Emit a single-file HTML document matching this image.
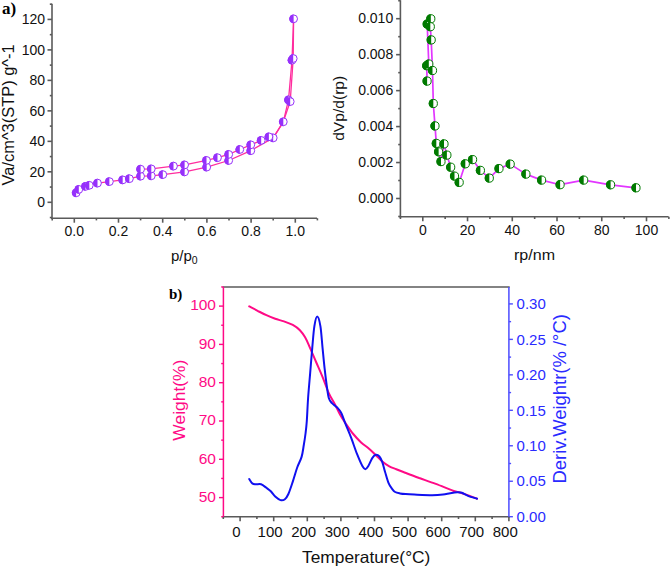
<!DOCTYPE html>
<html><head><meta charset="utf-8"><title>Figure</title>
<style>
html,body{margin:0;padding:0;background:#fff;}
body{width:670px;height:568px;overflow:hidden;font-family:"Liberation Sans", sans-serif;}
svg{display:block;}
</style></head>
<body>
<svg width="670" height="568" viewBox="0 0 670 568">
<rect width="670" height="568" fill="#fff"/>
<line x1="52" y1="3.7" x2="52" y2="219" stroke="#5a5a5a" stroke-width="1.6" stroke-linecap="butt"/>
<line x1="51.2" y1="218.2" x2="317" y2="218.2" stroke="#5a5a5a" stroke-width="1.6" stroke-linecap="butt"/>
<line x1="49.8" y1="217.54" x2="52" y2="217.54" stroke="#5a5a5a" stroke-width="1.6" stroke-linecap="butt"/>
<line x1="47.5" y1="202.3" x2="52" y2="202.3" stroke="#5a5a5a" stroke-width="1.6" stroke-linecap="butt"/>
<text x="45" y="207.3" font-family='"Liberation Sans", sans-serif' font-size="14" fill="#111" text-anchor="end" font-weight="normal" >0</text>
<line x1="49.8" y1="187.06" x2="52" y2="187.06" stroke="#5a5a5a" stroke-width="1.6" stroke-linecap="butt"/>
<line x1="47.5" y1="171.82" x2="52" y2="171.82" stroke="#5a5a5a" stroke-width="1.6" stroke-linecap="butt"/>
<text x="45" y="176.82" font-family='"Liberation Sans", sans-serif' font-size="14" fill="#111" text-anchor="end" font-weight="normal" >20</text>
<line x1="49.8" y1="156.58" x2="52" y2="156.58" stroke="#5a5a5a" stroke-width="1.6" stroke-linecap="butt"/>
<line x1="47.5" y1="141.34" x2="52" y2="141.34" stroke="#5a5a5a" stroke-width="1.6" stroke-linecap="butt"/>
<text x="45" y="146.34" font-family='"Liberation Sans", sans-serif' font-size="14" fill="#111" text-anchor="end" font-weight="normal" >40</text>
<line x1="49.8" y1="126.1" x2="52" y2="126.1" stroke="#5a5a5a" stroke-width="1.6" stroke-linecap="butt"/>
<line x1="47.5" y1="110.86" x2="52" y2="110.86" stroke="#5a5a5a" stroke-width="1.6" stroke-linecap="butt"/>
<text x="45" y="115.86" font-family='"Liberation Sans", sans-serif' font-size="14" fill="#111" text-anchor="end" font-weight="normal" >60</text>
<line x1="49.8" y1="95.62" x2="52" y2="95.62" stroke="#5a5a5a" stroke-width="1.6" stroke-linecap="butt"/>
<line x1="47.5" y1="80.38" x2="52" y2="80.38" stroke="#5a5a5a" stroke-width="1.6" stroke-linecap="butt"/>
<text x="45" y="85.38" font-family='"Liberation Sans", sans-serif' font-size="14" fill="#111" text-anchor="end" font-weight="normal" >80</text>
<line x1="49.8" y1="65.14" x2="52" y2="65.14" stroke="#5a5a5a" stroke-width="1.6" stroke-linecap="butt"/>
<line x1="47.5" y1="49.9" x2="52" y2="49.9" stroke="#5a5a5a" stroke-width="1.6" stroke-linecap="butt"/>
<text x="45" y="54.9" font-family='"Liberation Sans", sans-serif' font-size="14" fill="#111" text-anchor="end" font-weight="normal" >100</text>
<line x1="49.8" y1="34.66" x2="52" y2="34.66" stroke="#5a5a5a" stroke-width="1.6" stroke-linecap="butt"/>
<line x1="47.5" y1="19.42" x2="52" y2="19.42" stroke="#5a5a5a" stroke-width="1.6" stroke-linecap="butt"/>
<text x="45" y="24.42" font-family='"Liberation Sans", sans-serif' font-size="14" fill="#111" text-anchor="end" font-weight="normal" >120</text>
<line x1="49.8" y1="4.18" x2="52" y2="4.18" stroke="#5a5a5a" stroke-width="1.6" stroke-linecap="butt"/>
<line x1="52.2" y1="218.2" x2="52.2" y2="220.4" stroke="#5a5a5a" stroke-width="1.6" stroke-linecap="butt"/>
<line x1="74.3" y1="218.2" x2="74.3" y2="222.7" stroke="#5a5a5a" stroke-width="1.6" stroke-linecap="butt"/>
<text x="74.3" y="236.3" font-family='"Liberation Sans", sans-serif' font-size="14" fill="#111" text-anchor="middle" font-weight="normal" >0.0</text>
<line x1="96.4" y1="218.2" x2="96.4" y2="220.4" stroke="#5a5a5a" stroke-width="1.6" stroke-linecap="butt"/>
<line x1="118.5" y1="218.2" x2="118.5" y2="222.7" stroke="#5a5a5a" stroke-width="1.6" stroke-linecap="butt"/>
<text x="118.5" y="236.3" font-family='"Liberation Sans", sans-serif' font-size="14" fill="#111" text-anchor="middle" font-weight="normal" >0.2</text>
<line x1="140.6" y1="218.2" x2="140.6" y2="220.4" stroke="#5a5a5a" stroke-width="1.6" stroke-linecap="butt"/>
<line x1="162.7" y1="218.2" x2="162.7" y2="222.7" stroke="#5a5a5a" stroke-width="1.6" stroke-linecap="butt"/>
<text x="162.7" y="236.3" font-family='"Liberation Sans", sans-serif' font-size="14" fill="#111" text-anchor="middle" font-weight="normal" >0.4</text>
<line x1="184.8" y1="218.2" x2="184.8" y2="220.4" stroke="#5a5a5a" stroke-width="1.6" stroke-linecap="butt"/>
<line x1="206.9" y1="218.2" x2="206.9" y2="222.7" stroke="#5a5a5a" stroke-width="1.6" stroke-linecap="butt"/>
<text x="206.9" y="236.3" font-family='"Liberation Sans", sans-serif' font-size="14" fill="#111" text-anchor="middle" font-weight="normal" >0.6</text>
<line x1="229" y1="218.2" x2="229" y2="220.4" stroke="#5a5a5a" stroke-width="1.6" stroke-linecap="butt"/>
<line x1="251.1" y1="218.2" x2="251.1" y2="222.7" stroke="#5a5a5a" stroke-width="1.6" stroke-linecap="butt"/>
<text x="251.1" y="236.3" font-family='"Liberation Sans", sans-serif' font-size="14" fill="#111" text-anchor="middle" font-weight="normal" >0.8</text>
<line x1="273.2" y1="218.2" x2="273.2" y2="220.4" stroke="#5a5a5a" stroke-width="1.6" stroke-linecap="butt"/>
<line x1="295.3" y1="218.2" x2="295.3" y2="222.7" stroke="#5a5a5a" stroke-width="1.6" stroke-linecap="butt"/>
<text x="295.3" y="236.3" font-family='"Liberation Sans", sans-serif' font-size="14" fill="#111" text-anchor="middle" font-weight="normal" >1.0</text>
<line x1="317.4" y1="218.2" x2="317.4" y2="220.4" stroke="#5a5a5a" stroke-width="1.6" stroke-linecap="butt"/>
<text x="0" y="0" font-family='"Liberation Sans", sans-serif' font-size="16" fill="#111" text-anchor="middle" font-weight="normal" transform="translate(13.6,114.9) rotate(-90)" textLength="141" lengthAdjust="spacingAndGlyphs">Va/cm^3(STP) g^-1</text>
<text x="171" y="260.6" font-family='"Liberation Sans", sans-serif' font-size="15" fill="#111">p/p<tspan font-size="10.5" dy="3.8">0</tspan></text>
<text x="2" y="14.2" font-family='"Liberation Serif", serif' font-size="17" fill="#000" text-anchor="start" font-weight="bold" >a)</text>
<path d="M76.2,192.8 L78.8,189.4 L85.5,186.4 L89.3,185.3 L97.5,183.1 L109.4,181.6 L122.7,179.9 L129.4,178.7 L140.6,176.2 L151.3,175.8 L162.8,174.6 L184.6,171.9 L206.7,167.1 L228.7,160.5 L250.8,150.7 L273.2,137.9 L283.3,121.8 L288.5,99.9 L292,60.2 L293.6,18.8" fill="none" stroke="#ff2d9e" stroke-width="1.3" stroke-linejoin="round" stroke-linecap="round"/>
<path d="M293.6,18.8 L293.2,58.5 L290.2,101.6 L283.3,121.8 L273.2,137.9 L268.9,136.8 L261.2,140.4 L250.8,144.8 L239.8,149.5 L228.7,154.4 L217.5,157.7 L206.5,160.4 L184.6,164.9 L173.5,166.1 L151.3,168.9 L140.6,169.2" fill="none" stroke="#ff2d9e" stroke-width="1.3" stroke-linejoin="round" stroke-linecap="round"/>
<circle cx="76.2" cy="192.8" r="3.9" fill="#fff" stroke="#9630fb" stroke-width="1.0"/><path d="M76.2,188.4 A4.4,4.4 0 0 0 76.2,197.2 Z" fill="#9630fb"/>
<circle cx="78.8" cy="189.4" r="3.9" fill="#fff" stroke="#9630fb" stroke-width="1.0"/><path d="M78.8,185 A4.4,4.4 0 0 0 78.8,193.8 Z" fill="#9630fb"/>
<circle cx="85.5" cy="186.4" r="3.9" fill="#fff" stroke="#9630fb" stroke-width="1.0"/><path d="M85.5,182 A4.4,4.4 0 0 0 85.5,190.8 Z" fill="#9630fb"/>
<circle cx="89.3" cy="185.3" r="3.9" fill="#fff" stroke="#9630fb" stroke-width="1.0"/><path d="M89.3,180.9 A4.4,4.4 0 0 0 89.3,189.7 Z" fill="#9630fb"/>
<circle cx="97.5" cy="183.1" r="3.9" fill="#fff" stroke="#9630fb" stroke-width="1.0"/><path d="M97.5,178.7 A4.4,4.4 0 0 0 97.5,187.5 Z" fill="#9630fb"/>
<circle cx="109.4" cy="181.6" r="3.9" fill="#fff" stroke="#9630fb" stroke-width="1.0"/><path d="M109.4,177.2 A4.4,4.4 0 0 0 109.4,186 Z" fill="#9630fb"/>
<circle cx="122.7" cy="179.9" r="3.9" fill="#fff" stroke="#9630fb" stroke-width="1.0"/><path d="M122.7,175.5 A4.4,4.4 0 0 0 122.7,184.3 Z" fill="#9630fb"/>
<circle cx="129.4" cy="178.7" r="3.9" fill="#fff" stroke="#9630fb" stroke-width="1.0"/><path d="M129.4,174.3 A4.4,4.4 0 0 0 129.4,183.1 Z" fill="#9630fb"/>
<circle cx="140.6" cy="176.2" r="3.9" fill="#fff" stroke="#9630fb" stroke-width="1.0"/><path d="M140.6,171.8 A4.4,4.4 0 0 0 140.6,180.6 Z" fill="#9630fb"/>
<circle cx="151.3" cy="175.8" r="3.9" fill="#fff" stroke="#9630fb" stroke-width="1.0"/><path d="M151.3,171.4 A4.4,4.4 0 0 0 151.3,180.2 Z" fill="#9630fb"/>
<circle cx="162.8" cy="174.6" r="3.9" fill="#fff" stroke="#9630fb" stroke-width="1.0"/><path d="M162.8,170.2 A4.4,4.4 0 0 0 162.8,179 Z" fill="#9630fb"/>
<circle cx="184.6" cy="171.9" r="3.9" fill="#fff" stroke="#9630fb" stroke-width="1.0"/><path d="M184.6,167.5 A4.4,4.4 0 0 0 184.6,176.3 Z" fill="#9630fb"/>
<circle cx="206.7" cy="167.1" r="3.9" fill="#fff" stroke="#9630fb" stroke-width="1.0"/><path d="M206.7,162.7 A4.4,4.4 0 0 0 206.7,171.5 Z" fill="#9630fb"/>
<circle cx="228.7" cy="160.5" r="3.9" fill="#fff" stroke="#9630fb" stroke-width="1.0"/><path d="M228.7,156.1 A4.4,4.4 0 0 0 228.7,164.9 Z" fill="#9630fb"/>
<circle cx="250.8" cy="150.7" r="3.9" fill="#fff" stroke="#9630fb" stroke-width="1.0"/><path d="M250.8,146.3 A4.4,4.4 0 0 0 250.8,155.1 Z" fill="#9630fb"/>
<circle cx="273.2" cy="137.9" r="3.9" fill="#fff" stroke="#9630fb" stroke-width="1.0"/><path d="M273.2,133.5 A4.4,4.4 0 0 0 273.2,142.3 Z" fill="#9630fb"/>
<circle cx="283.3" cy="121.8" r="3.9" fill="#fff" stroke="#9630fb" stroke-width="1.0"/><path d="M283.3,117.4 A4.4,4.4 0 0 0 283.3,126.2 Z" fill="#9630fb"/>
<circle cx="288.5" cy="99.9" r="3.9" fill="#fff" stroke="#9630fb" stroke-width="1.0"/><path d="M288.5,95.5 A4.4,4.4 0 0 0 288.5,104.3 Z" fill="#9630fb"/>
<circle cx="292" cy="60.2" r="3.9" fill="#fff" stroke="#9630fb" stroke-width="1.0"/><path d="M292,55.8 A4.4,4.4 0 0 0 292,64.6 Z" fill="#9630fb"/>
<circle cx="293.6" cy="18.8" r="3.9" fill="#fff" stroke="#9630fb" stroke-width="1.0"/><path d="M293.6,14.4 A4.4,4.4 0 0 0 293.6,23.2 Z" fill="#9630fb"/>
<circle cx="293.2" cy="58.5" r="3.9" fill="#fff" stroke="#9630fb" stroke-width="1.0"/><path d="M293.2,54.1 A4.4,4.4 0 0 0 293.2,62.9 Z" fill="#9630fb"/>
<circle cx="290.2" cy="101.6" r="3.9" fill="#fff" stroke="#9630fb" stroke-width="1.0"/><path d="M290.2,97.2 A4.4,4.4 0 0 0 290.2,106 Z" fill="#9630fb"/>
<circle cx="268.9" cy="136.8" r="3.9" fill="#fff" stroke="#9630fb" stroke-width="1.0"/><path d="M268.9,132.4 A4.4,4.4 0 0 0 268.9,141.2 Z" fill="#9630fb"/>
<circle cx="261.2" cy="140.4" r="3.9" fill="#fff" stroke="#9630fb" stroke-width="1.0"/><path d="M261.2,136 A4.4,4.4 0 0 0 261.2,144.8 Z" fill="#9630fb"/>
<circle cx="250.8" cy="144.8" r="3.9" fill="#fff" stroke="#9630fb" stroke-width="1.0"/><path d="M250.8,140.4 A4.4,4.4 0 0 0 250.8,149.2 Z" fill="#9630fb"/>
<circle cx="239.8" cy="149.5" r="3.9" fill="#fff" stroke="#9630fb" stroke-width="1.0"/><path d="M239.8,145.1 A4.4,4.4 0 0 0 239.8,153.9 Z" fill="#9630fb"/>
<circle cx="228.7" cy="154.4" r="3.9" fill="#fff" stroke="#9630fb" stroke-width="1.0"/><path d="M228.7,150 A4.4,4.4 0 0 0 228.7,158.8 Z" fill="#9630fb"/>
<circle cx="217.5" cy="157.7" r="3.9" fill="#fff" stroke="#9630fb" stroke-width="1.0"/><path d="M217.5,153.3 A4.4,4.4 0 0 0 217.5,162.1 Z" fill="#9630fb"/>
<circle cx="206.5" cy="160.4" r="3.9" fill="#fff" stroke="#9630fb" stroke-width="1.0"/><path d="M206.5,156 A4.4,4.4 0 0 0 206.5,164.8 Z" fill="#9630fb"/>
<circle cx="184.6" cy="164.9" r="3.9" fill="#fff" stroke="#9630fb" stroke-width="1.0"/><path d="M184.6,160.5 A4.4,4.4 0 0 0 184.6,169.3 Z" fill="#9630fb"/>
<circle cx="173.5" cy="166.1" r="3.9" fill="#fff" stroke="#9630fb" stroke-width="1.0"/><path d="M173.5,161.7 A4.4,4.4 0 0 0 173.5,170.5 Z" fill="#9630fb"/>
<circle cx="151.3" cy="168.9" r="3.9" fill="#fff" stroke="#9630fb" stroke-width="1.0"/><path d="M151.3,164.5 A4.4,4.4 0 0 0 151.3,173.3 Z" fill="#9630fb"/>
<circle cx="140.6" cy="169.2" r="3.9" fill="#fff" stroke="#9630fb" stroke-width="1.0"/><path d="M140.6,164.8 A4.4,4.4 0 0 0 140.6,173.6 Z" fill="#9630fb"/>
<line x1="400.4" y1="0.2" x2="400.4" y2="217.6" stroke="#5a5a5a" stroke-width="1.6" stroke-linecap="butt"/>
<line x1="399.6" y1="216.8" x2="668.6" y2="216.8" stroke="#5a5a5a" stroke-width="1.6" stroke-linecap="butt"/>
<line x1="398.2" y1="216.48" x2="400.4" y2="216.48" stroke="#5a5a5a" stroke-width="1.6" stroke-linecap="butt"/>
<line x1="396.1" y1="198.5" x2="400.4" y2="198.5" stroke="#5a5a5a" stroke-width="1.6" stroke-linecap="butt"/>
<text x="393.2" y="202.8" font-family='"Liberation Sans", sans-serif' font-size="14" fill="#111" text-anchor="end" font-weight="normal" >0.000</text>
<line x1="398.2" y1="180.52" x2="400.4" y2="180.52" stroke="#5a5a5a" stroke-width="1.6" stroke-linecap="butt"/>
<line x1="396.1" y1="162.54" x2="400.4" y2="162.54" stroke="#5a5a5a" stroke-width="1.6" stroke-linecap="butt"/>
<text x="393.2" y="166.84" font-family='"Liberation Sans", sans-serif' font-size="14" fill="#111" text-anchor="end" font-weight="normal" >0.002</text>
<line x1="398.2" y1="144.56" x2="400.4" y2="144.56" stroke="#5a5a5a" stroke-width="1.6" stroke-linecap="butt"/>
<line x1="396.1" y1="126.58" x2="400.4" y2="126.58" stroke="#5a5a5a" stroke-width="1.6" stroke-linecap="butt"/>
<text x="393.2" y="130.88" font-family='"Liberation Sans", sans-serif' font-size="14" fill="#111" text-anchor="end" font-weight="normal" >0.004</text>
<line x1="398.2" y1="108.6" x2="400.4" y2="108.6" stroke="#5a5a5a" stroke-width="1.6" stroke-linecap="butt"/>
<line x1="396.1" y1="90.62" x2="400.4" y2="90.62" stroke="#5a5a5a" stroke-width="1.6" stroke-linecap="butt"/>
<text x="393.2" y="94.92" font-family='"Liberation Sans", sans-serif' font-size="14" fill="#111" text-anchor="end" font-weight="normal" >0.006</text>
<line x1="398.2" y1="72.64" x2="400.4" y2="72.64" stroke="#5a5a5a" stroke-width="1.6" stroke-linecap="butt"/>
<line x1="396.1" y1="54.66" x2="400.4" y2="54.66" stroke="#5a5a5a" stroke-width="1.6" stroke-linecap="butt"/>
<text x="393.2" y="58.96" font-family='"Liberation Sans", sans-serif' font-size="14" fill="#111" text-anchor="end" font-weight="normal" >0.008</text>
<line x1="398.2" y1="36.68" x2="400.4" y2="36.68" stroke="#5a5a5a" stroke-width="1.6" stroke-linecap="butt"/>
<line x1="396.1" y1="18.7" x2="400.4" y2="18.7" stroke="#5a5a5a" stroke-width="1.6" stroke-linecap="butt"/>
<text x="393.2" y="23" font-family='"Liberation Sans", sans-serif' font-size="14" fill="#111" text-anchor="end" font-weight="normal" >0.010</text>
<line x1="398.2" y1="0.72" x2="400.4" y2="0.72" stroke="#5a5a5a" stroke-width="1.6" stroke-linecap="butt"/>
<line x1="400.43" y1="216.8" x2="400.43" y2="219" stroke="#5a5a5a" stroke-width="1.6" stroke-linecap="butt"/>
<line x1="422.8" y1="216.8" x2="422.8" y2="221.3" stroke="#5a5a5a" stroke-width="1.6" stroke-linecap="butt"/>
<text x="422.8" y="234.5" font-family='"Liberation Sans", sans-serif' font-size="14" fill="#111" text-anchor="middle" font-weight="normal" >0</text>
<line x1="445.17" y1="216.8" x2="445.17" y2="219" stroke="#5a5a5a" stroke-width="1.6" stroke-linecap="butt"/>
<line x1="467.54" y1="216.8" x2="467.54" y2="221.3" stroke="#5a5a5a" stroke-width="1.6" stroke-linecap="butt"/>
<text x="467.54" y="234.5" font-family='"Liberation Sans", sans-serif' font-size="14" fill="#111" text-anchor="middle" font-weight="normal" >20</text>
<line x1="489.91" y1="216.8" x2="489.91" y2="219" stroke="#5a5a5a" stroke-width="1.6" stroke-linecap="butt"/>
<line x1="512.28" y1="216.8" x2="512.28" y2="221.3" stroke="#5a5a5a" stroke-width="1.6" stroke-linecap="butt"/>
<text x="512.28" y="234.5" font-family='"Liberation Sans", sans-serif' font-size="14" fill="#111" text-anchor="middle" font-weight="normal" >40</text>
<line x1="534.65" y1="216.8" x2="534.65" y2="219" stroke="#5a5a5a" stroke-width="1.6" stroke-linecap="butt"/>
<line x1="557.02" y1="216.8" x2="557.02" y2="221.3" stroke="#5a5a5a" stroke-width="1.6" stroke-linecap="butt"/>
<text x="557.02" y="234.5" font-family='"Liberation Sans", sans-serif' font-size="14" fill="#111" text-anchor="middle" font-weight="normal" >60</text>
<line x1="579.39" y1="216.8" x2="579.39" y2="219" stroke="#5a5a5a" stroke-width="1.6" stroke-linecap="butt"/>
<line x1="601.76" y1="216.8" x2="601.76" y2="221.3" stroke="#5a5a5a" stroke-width="1.6" stroke-linecap="butt"/>
<text x="601.76" y="234.5" font-family='"Liberation Sans", sans-serif' font-size="14" fill="#111" text-anchor="middle" font-weight="normal" >80</text>
<line x1="624.13" y1="216.8" x2="624.13" y2="219" stroke="#5a5a5a" stroke-width="1.6" stroke-linecap="butt"/>
<line x1="646.5" y1="216.8" x2="646.5" y2="221.3" stroke="#5a5a5a" stroke-width="1.6" stroke-linecap="butt"/>
<text x="646.5" y="234.5" font-family='"Liberation Sans", sans-serif' font-size="14" fill="#111" text-anchor="middle" font-weight="normal" >100</text>
<line x1="668.87" y1="216.8" x2="668.87" y2="219" stroke="#5a5a5a" stroke-width="1.6" stroke-linecap="butt"/>
<text x="0" y="0" font-family='"Liberation Sans", sans-serif' font-size="15" fill="#111" text-anchor="middle" font-weight="normal" transform="translate(343.8,108.3) rotate(-90)" textLength="65" lengthAdjust="spacingAndGlyphs">dVp/d(rp)</text>
<text x="514" y="259.5" font-family='"Liberation Sans", sans-serif' font-size="15" fill="#111" text-anchor="start" font-weight="normal" textLength="41" lengthAdjust="spacingAndGlyphs">rp/nm</text>
<path d="M427.1,81.1 L426.7,65.7 L428.8,64 L427.2,24.1 L430.8,18.8 L430.3,26.7 L431.2,39.9 L432.5,70.5 L433.3,103.5 L435,125.9 L436.3,143.4 L438.6,151.8 L441,161.6 L444,143.9 L446.9,155.1 L450.7,167.2 L454.5,176.1 L459.2,182.4 L465.3,163.8 L472.6,159.6 L480.4,170.4 L489.3,178.1 L499,168.6 L510.2,164.1 L525.9,174.1 L541.6,180.1 L560.1,184.7 L583.7,180.1 L610.6,184.8 L636,187.8" fill="none" stroke="#e236ff" stroke-width="1.7" stroke-linejoin="round" stroke-linecap="round"/>
<circle cx="427.1" cy="81.1" r="4.1" fill="#fff" stroke="#007a00" stroke-width="1.0"/><path d="M427.1,76.5 A4.6,4.6 0 0 0 427.1,85.7 Z" fill="#007a00"/>
<circle cx="426.7" cy="65.7" r="4.1" fill="#fff" stroke="#007a00" stroke-width="1.0"/><path d="M426.7,61.1 A4.6,4.6 0 0 0 426.7,70.3 Z" fill="#007a00"/>
<circle cx="428.8" cy="64" r="4.1" fill="#fff" stroke="#007a00" stroke-width="1.0"/><path d="M428.8,59.4 A4.6,4.6 0 0 0 428.8,68.6 Z" fill="#007a00"/>
<circle cx="427.2" cy="24.1" r="4.1" fill="#fff" stroke="#007a00" stroke-width="1.0"/><path d="M427.2,19.5 A4.6,4.6 0 0 0 427.2,28.7 Z" fill="#007a00"/>
<circle cx="430.8" cy="18.8" r="4.1" fill="#fff" stroke="#007a00" stroke-width="1.0"/><path d="M430.8,14.2 A4.6,4.6 0 0 0 430.8,23.4 Z" fill="#007a00"/>
<circle cx="430.3" cy="26.7" r="4.1" fill="#fff" stroke="#007a00" stroke-width="1.0"/><path d="M430.3,22.1 A4.6,4.6 0 0 0 430.3,31.3 Z" fill="#007a00"/>
<circle cx="431.2" cy="39.9" r="4.1" fill="#fff" stroke="#007a00" stroke-width="1.0"/><path d="M431.2,35.3 A4.6,4.6 0 0 0 431.2,44.5 Z" fill="#007a00"/>
<circle cx="432.5" cy="70.5" r="4.1" fill="#fff" stroke="#007a00" stroke-width="1.0"/><path d="M432.5,65.9 A4.6,4.6 0 0 0 432.5,75.1 Z" fill="#007a00"/>
<circle cx="433.3" cy="103.5" r="4.1" fill="#fff" stroke="#007a00" stroke-width="1.0"/><path d="M433.3,98.9 A4.6,4.6 0 0 0 433.3,108.1 Z" fill="#007a00"/>
<circle cx="435" cy="125.9" r="4.1" fill="#fff" stroke="#007a00" stroke-width="1.0"/><path d="M435,121.3 A4.6,4.6 0 0 0 435,130.5 Z" fill="#007a00"/>
<circle cx="436.3" cy="143.4" r="4.1" fill="#fff" stroke="#007a00" stroke-width="1.0"/><path d="M436.3,138.8 A4.6,4.6 0 0 0 436.3,148 Z" fill="#007a00"/>
<circle cx="438.6" cy="151.8" r="4.1" fill="#fff" stroke="#007a00" stroke-width="1.0"/><path d="M438.6,147.2 A4.6,4.6 0 0 0 438.6,156.4 Z" fill="#007a00"/>
<circle cx="441" cy="161.6" r="4.1" fill="#fff" stroke="#007a00" stroke-width="1.0"/><path d="M441,157 A4.6,4.6 0 0 0 441,166.2 Z" fill="#007a00"/>
<circle cx="444" cy="143.9" r="4.1" fill="#fff" stroke="#007a00" stroke-width="1.0"/><path d="M444,139.3 A4.6,4.6 0 0 0 444,148.5 Z" fill="#007a00"/>
<circle cx="446.9" cy="155.1" r="4.1" fill="#fff" stroke="#007a00" stroke-width="1.0"/><path d="M446.9,150.5 A4.6,4.6 0 0 0 446.9,159.7 Z" fill="#007a00"/>
<circle cx="450.7" cy="167.2" r="4.1" fill="#fff" stroke="#007a00" stroke-width="1.0"/><path d="M450.7,162.6 A4.6,4.6 0 0 0 450.7,171.8 Z" fill="#007a00"/>
<circle cx="454.5" cy="176.1" r="4.1" fill="#fff" stroke="#007a00" stroke-width="1.0"/><path d="M454.5,171.5 A4.6,4.6 0 0 0 454.5,180.7 Z" fill="#007a00"/>
<circle cx="459.2" cy="182.4" r="4.1" fill="#fff" stroke="#007a00" stroke-width="1.0"/><path d="M459.2,177.8 A4.6,4.6 0 0 0 459.2,187 Z" fill="#007a00"/>
<circle cx="465.3" cy="163.8" r="4.1" fill="#fff" stroke="#007a00" stroke-width="1.0"/><path d="M465.3,159.2 A4.6,4.6 0 0 0 465.3,168.4 Z" fill="#007a00"/>
<circle cx="472.6" cy="159.6" r="4.1" fill="#fff" stroke="#007a00" stroke-width="1.0"/><path d="M472.6,155 A4.6,4.6 0 0 0 472.6,164.2 Z" fill="#007a00"/>
<circle cx="480.4" cy="170.4" r="4.1" fill="#fff" stroke="#007a00" stroke-width="1.0"/><path d="M480.4,165.8 A4.6,4.6 0 0 0 480.4,175 Z" fill="#007a00"/>
<circle cx="489.3" cy="178.1" r="4.1" fill="#fff" stroke="#007a00" stroke-width="1.0"/><path d="M489.3,173.5 A4.6,4.6 0 0 0 489.3,182.7 Z" fill="#007a00"/>
<circle cx="499" cy="168.6" r="4.1" fill="#fff" stroke="#007a00" stroke-width="1.0"/><path d="M499,164 A4.6,4.6 0 0 0 499,173.2 Z" fill="#007a00"/>
<circle cx="510.2" cy="164.1" r="4.1" fill="#fff" stroke="#007a00" stroke-width="1.0"/><path d="M510.2,159.5 A4.6,4.6 0 0 0 510.2,168.7 Z" fill="#007a00"/>
<circle cx="525.9" cy="174.1" r="4.1" fill="#fff" stroke="#007a00" stroke-width="1.0"/><path d="M525.9,169.5 A4.6,4.6 0 0 0 525.9,178.7 Z" fill="#007a00"/>
<circle cx="541.6" cy="180.1" r="4.1" fill="#fff" stroke="#007a00" stroke-width="1.0"/><path d="M541.6,175.5 A4.6,4.6 0 0 0 541.6,184.7 Z" fill="#007a00"/>
<circle cx="560.1" cy="184.7" r="4.1" fill="#fff" stroke="#007a00" stroke-width="1.0"/><path d="M560.1,180.1 A4.6,4.6 0 0 0 560.1,189.3 Z" fill="#007a00"/>
<circle cx="583.7" cy="180.1" r="4.1" fill="#fff" stroke="#007a00" stroke-width="1.0"/><path d="M583.7,175.5 A4.6,4.6 0 0 0 583.7,184.7 Z" fill="#007a00"/>
<circle cx="610.6" cy="184.8" r="4.1" fill="#fff" stroke="#007a00" stroke-width="1.0"/><path d="M610.6,180.2 A4.6,4.6 0 0 0 610.6,189.4 Z" fill="#007a00"/>
<circle cx="636" cy="187.8" r="4.1" fill="#fff" stroke="#007a00" stroke-width="1.0"/><path d="M636,183.2 A4.6,4.6 0 0 0 636,192.4 Z" fill="#007a00"/>
<line x1="222.6" y1="516.8" x2="509.7" y2="516.8" stroke="#5a5a5a" stroke-width="1.6" stroke-linecap="butt"/>
<line x1="222.6" y1="287" x2="509.7" y2="287" stroke="#5a5a5a" stroke-width="1.6" stroke-linecap="butt"/>
<line x1="223.4" y1="287" x2="223.4" y2="517.6" stroke="#ff0a86" stroke-width="1.5" stroke-linecap="butt"/>
<line x1="508.9" y1="287" x2="508.9" y2="517.6" stroke="#4d4dff" stroke-width="1.5" stroke-linecap="butt"/>
<line x1="221.2" y1="516.75" x2="223.4" y2="516.75" stroke="#ff0a86" stroke-width="1.4" stroke-linecap="butt"/>
<line x1="219" y1="497.6" x2="223.4" y2="497.6" stroke="#ff0a86" stroke-width="1.4" stroke-linecap="butt"/>
<text x="216" y="501.9" font-family='"Liberation Sans", sans-serif' font-size="15.5" fill="#ff0a86" text-anchor="end" font-weight="normal" >50</text>
<line x1="221.2" y1="478.45" x2="223.4" y2="478.45" stroke="#ff0a86" stroke-width="1.4" stroke-linecap="butt"/>
<line x1="219" y1="459.3" x2="223.4" y2="459.3" stroke="#ff0a86" stroke-width="1.4" stroke-linecap="butt"/>
<text x="216" y="463.6" font-family='"Liberation Sans", sans-serif' font-size="15.5" fill="#ff0a86" text-anchor="end" font-weight="normal" >60</text>
<line x1="221.2" y1="440.15" x2="223.4" y2="440.15" stroke="#ff0a86" stroke-width="1.4" stroke-linecap="butt"/>
<line x1="219" y1="421" x2="223.4" y2="421" stroke="#ff0a86" stroke-width="1.4" stroke-linecap="butt"/>
<text x="216" y="425.3" font-family='"Liberation Sans", sans-serif' font-size="15.5" fill="#ff0a86" text-anchor="end" font-weight="normal" >70</text>
<line x1="221.2" y1="401.85" x2="223.4" y2="401.85" stroke="#ff0a86" stroke-width="1.4" stroke-linecap="butt"/>
<line x1="219" y1="382.7" x2="223.4" y2="382.7" stroke="#ff0a86" stroke-width="1.4" stroke-linecap="butt"/>
<text x="216" y="387" font-family='"Liberation Sans", sans-serif' font-size="15.5" fill="#ff0a86" text-anchor="end" font-weight="normal" >80</text>
<line x1="221.2" y1="363.55" x2="223.4" y2="363.55" stroke="#ff0a86" stroke-width="1.4" stroke-linecap="butt"/>
<line x1="219" y1="344.4" x2="223.4" y2="344.4" stroke="#ff0a86" stroke-width="1.4" stroke-linecap="butt"/>
<text x="216" y="348.7" font-family='"Liberation Sans", sans-serif' font-size="15.5" fill="#ff0a86" text-anchor="end" font-weight="normal" >90</text>
<line x1="221.2" y1="325.25" x2="223.4" y2="325.25" stroke="#ff0a86" stroke-width="1.4" stroke-linecap="butt"/>
<line x1="219" y1="306.1" x2="223.4" y2="306.1" stroke="#ff0a86" stroke-width="1.4" stroke-linecap="butt"/>
<text x="216" y="310.4" font-family='"Liberation Sans", sans-serif' font-size="15.5" fill="#ff0a86" text-anchor="end" font-weight="normal" >100</text>
<line x1="221.2" y1="286.95" x2="223.4" y2="286.95" stroke="#ff0a86" stroke-width="1.4" stroke-linecap="butt"/>
<line x1="508.9" y1="516.7" x2="512.9" y2="516.7" stroke="#4d4dff" stroke-width="1.4" stroke-linecap="butt"/>
<text x="516.6" y="521.9" font-family='"Liberation Sans", sans-serif' font-size="15" fill="#2a2aff" text-anchor="start" font-weight="normal" >0.00</text>
<line x1="508.9" y1="498.97" x2="511.1" y2="498.97" stroke="#4d4dff" stroke-width="1.4" stroke-linecap="butt"/>
<line x1="508.9" y1="481.24" x2="512.9" y2="481.24" stroke="#4d4dff" stroke-width="1.4" stroke-linecap="butt"/>
<text x="516.6" y="486.44" font-family='"Liberation Sans", sans-serif' font-size="15" fill="#2a2aff" text-anchor="start" font-weight="normal" >0.05</text>
<line x1="508.9" y1="463.5" x2="511.1" y2="463.5" stroke="#4d4dff" stroke-width="1.4" stroke-linecap="butt"/>
<line x1="508.9" y1="445.77" x2="512.9" y2="445.77" stroke="#4d4dff" stroke-width="1.4" stroke-linecap="butt"/>
<text x="516.6" y="450.97" font-family='"Liberation Sans", sans-serif' font-size="15" fill="#2a2aff" text-anchor="start" font-weight="normal" >0.10</text>
<line x1="508.9" y1="428.04" x2="511.1" y2="428.04" stroke="#4d4dff" stroke-width="1.4" stroke-linecap="butt"/>
<line x1="508.9" y1="410.31" x2="512.9" y2="410.31" stroke="#4d4dff" stroke-width="1.4" stroke-linecap="butt"/>
<text x="516.6" y="415.51" font-family='"Liberation Sans", sans-serif' font-size="15" fill="#2a2aff" text-anchor="start" font-weight="normal" >0.15</text>
<line x1="508.9" y1="392.57" x2="511.1" y2="392.57" stroke="#4d4dff" stroke-width="1.4" stroke-linecap="butt"/>
<line x1="508.9" y1="374.84" x2="512.9" y2="374.84" stroke="#4d4dff" stroke-width="1.4" stroke-linecap="butt"/>
<text x="516.6" y="380.04" font-family='"Liberation Sans", sans-serif' font-size="15" fill="#2a2aff" text-anchor="start" font-weight="normal" >0.20</text>
<line x1="508.9" y1="357.11" x2="511.1" y2="357.11" stroke="#4d4dff" stroke-width="1.4" stroke-linecap="butt"/>
<line x1="508.9" y1="339.38" x2="512.9" y2="339.38" stroke="#4d4dff" stroke-width="1.4" stroke-linecap="butt"/>
<text x="516.6" y="344.58" font-family='"Liberation Sans", sans-serif' font-size="15" fill="#2a2aff" text-anchor="start" font-weight="normal" >0.25</text>
<line x1="508.9" y1="321.64" x2="511.1" y2="321.64" stroke="#4d4dff" stroke-width="1.4" stroke-linecap="butt"/>
<line x1="508.9" y1="303.91" x2="512.9" y2="303.91" stroke="#4d4dff" stroke-width="1.4" stroke-linecap="butt"/>
<text x="516.6" y="309.11" font-family='"Liberation Sans", sans-serif' font-size="15" fill="#2a2aff" text-anchor="start" font-weight="normal" >0.30</text>
<line x1="223.3" y1="516.8" x2="223.3" y2="519" stroke="#5a5a5a" stroke-width="1.6" stroke-linecap="butt"/>
<line x1="240.1" y1="516.8" x2="240.1" y2="521.3" stroke="#5a5a5a" stroke-width="1.6" stroke-linecap="butt"/>
<text x="236.5" y="536.7" font-family='"Liberation Sans", sans-serif' font-size="15" fill="#111" text-anchor="middle" font-weight="normal" >0</text>
<line x1="256.9" y1="516.8" x2="256.9" y2="519" stroke="#5a5a5a" stroke-width="1.6" stroke-linecap="butt"/>
<line x1="273.7" y1="516.8" x2="273.7" y2="521.3" stroke="#5a5a5a" stroke-width="1.6" stroke-linecap="butt"/>
<text x="270.1" y="536.7" font-family='"Liberation Sans", sans-serif' font-size="15" fill="#111" text-anchor="middle" font-weight="normal" >100</text>
<line x1="290.5" y1="516.8" x2="290.5" y2="519" stroke="#5a5a5a" stroke-width="1.6" stroke-linecap="butt"/>
<line x1="307.3" y1="516.8" x2="307.3" y2="521.3" stroke="#5a5a5a" stroke-width="1.6" stroke-linecap="butt"/>
<text x="303.7" y="536.7" font-family='"Liberation Sans", sans-serif' font-size="15" fill="#111" text-anchor="middle" font-weight="normal" >200</text>
<line x1="324.1" y1="516.8" x2="324.1" y2="519" stroke="#5a5a5a" stroke-width="1.6" stroke-linecap="butt"/>
<line x1="340.9" y1="516.8" x2="340.9" y2="521.3" stroke="#5a5a5a" stroke-width="1.6" stroke-linecap="butt"/>
<text x="337.3" y="536.7" font-family='"Liberation Sans", sans-serif' font-size="15" fill="#111" text-anchor="middle" font-weight="normal" >300</text>
<line x1="357.7" y1="516.8" x2="357.7" y2="519" stroke="#5a5a5a" stroke-width="1.6" stroke-linecap="butt"/>
<line x1="374.5" y1="516.8" x2="374.5" y2="521.3" stroke="#5a5a5a" stroke-width="1.6" stroke-linecap="butt"/>
<text x="370.9" y="536.7" font-family='"Liberation Sans", sans-serif' font-size="15" fill="#111" text-anchor="middle" font-weight="normal" >400</text>
<line x1="391.3" y1="516.8" x2="391.3" y2="519" stroke="#5a5a5a" stroke-width="1.6" stroke-linecap="butt"/>
<line x1="408.1" y1="516.8" x2="408.1" y2="521.3" stroke="#5a5a5a" stroke-width="1.6" stroke-linecap="butt"/>
<text x="404.5" y="536.7" font-family='"Liberation Sans", sans-serif' font-size="15" fill="#111" text-anchor="middle" font-weight="normal" >500</text>
<line x1="424.9" y1="516.8" x2="424.9" y2="519" stroke="#5a5a5a" stroke-width="1.6" stroke-linecap="butt"/>
<line x1="441.7" y1="516.8" x2="441.7" y2="521.3" stroke="#5a5a5a" stroke-width="1.6" stroke-linecap="butt"/>
<text x="438.1" y="536.7" font-family='"Liberation Sans", sans-serif' font-size="15" fill="#111" text-anchor="middle" font-weight="normal" >600</text>
<line x1="458.5" y1="516.8" x2="458.5" y2="519" stroke="#5a5a5a" stroke-width="1.6" stroke-linecap="butt"/>
<line x1="475.3" y1="516.8" x2="475.3" y2="521.3" stroke="#5a5a5a" stroke-width="1.6" stroke-linecap="butt"/>
<text x="471.7" y="536.7" font-family='"Liberation Sans", sans-serif' font-size="15" fill="#111" text-anchor="middle" font-weight="normal" >700</text>
<line x1="492.1" y1="516.8" x2="492.1" y2="519" stroke="#5a5a5a" stroke-width="1.6" stroke-linecap="butt"/>
<line x1="508.9" y1="516.8" x2="508.9" y2="521.3" stroke="#5a5a5a" stroke-width="1.6" stroke-linecap="butt"/>
<text x="505.3" y="536.7" font-family='"Liberation Sans", sans-serif' font-size="15" fill="#111" text-anchor="middle" font-weight="normal" >800</text>
<text x="0" y="0" font-family='"Liberation Sans", sans-serif' font-size="17" fill="#ff0a86" text-anchor="middle" font-weight="normal" transform="translate(185.2,400.2) rotate(-90)" textLength="81" lengthAdjust="spacingAndGlyphs">Weight(%)</text>
<text x="0" y="0" font-family='"Liberation Sans", sans-serif' font-size="18" fill="#2a2aff" text-anchor="middle" font-weight="normal" transform="translate(566.2,398.8) rotate(-90)" textLength="169.4" lengthAdjust="spacingAndGlyphs">Deriv.Weightr(% /°C)</text>
<text x="302" y="563" font-family='"Liberation Sans", sans-serif' font-size="16.5" fill="#111" text-anchor="start" font-weight="normal" textLength="128.4" lengthAdjust="spacingAndGlyphs">Temperature(°C)</text>
<text x="169" y="298.8" font-family='"Liberation Serif", serif' font-size="15" fill="#000" text-anchor="start" font-weight="bold" >b)</text>
<path d="M249.2,306.4 C250.6,307.13 254.73,309.33 257.6,310.8 C260.47,312.27 263.47,313.87 266.4,315.2 C269.33,316.53 272.27,317.77 275.2,318.8 C278.13,319.83 281.07,320.38 284,321.4 C286.93,322.42 290.15,323.43 292.8,324.9 C295.45,326.37 297.85,328.13 299.9,330.2 C301.95,332.27 303.45,334.45 305.1,337.3 C306.75,340.15 307.97,343.18 309.8,347.3 C311.63,351.42 313.98,357.08 316.1,362 C318.22,366.92 320.38,371.6 322.5,376.8 C324.62,382 326.72,388.58 328.8,393.2 C330.88,397.82 333.13,400.95 335,404.5 C336.87,408.05 338.22,411.33 340,414.5 C341.78,417.67 343.57,420.33 345.7,423.5 C347.83,426.67 350.23,430.35 352.8,433.5 C355.37,436.65 358.53,439.98 361.1,442.4 C363.67,444.82 365.85,446 368.2,448 C370.55,450 372.85,452.17 375.2,454.4 C377.55,456.63 379.95,459.42 382.3,461.4 C384.65,463.38 386.97,465 389.3,466.3 C391.63,467.6 393.95,468.25 396.3,469.2 C398.65,470.15 401.05,471.07 403.4,472 C405.75,472.93 407.63,473.75 410.4,474.8 C413.17,475.85 415.77,476.78 420,478.3 C424.23,479.82 430.18,481.78 435.8,483.9 C441.42,486.02 449.52,489.52 453.7,491 C457.88,492.48 457.02,491.52 460.9,492.8 C464.78,494.08 474.32,497.72 477,498.7" fill="none" stroke="#ff0a86" stroke-width="2.0" stroke-linejoin="round" stroke-linecap="round"/>
<path d="M249.2,479 C249.72,479.73 251.2,482.52 252.3,483.4 C253.4,484.28 254.33,484.15 255.8,484.3 C257.27,484.45 259.33,483.72 261.1,484.3 C262.87,484.88 264.78,486.63 266.4,487.8 C268.02,488.97 269.33,489.83 270.8,491.3 C272.27,492.77 273.58,495.13 275.2,496.6 C276.82,498.07 278.88,499.67 280.5,500.1 C282.12,500.53 283.58,500.22 284.9,499.2 C286.22,498.18 287.08,496.93 288.4,494 C289.72,491.07 291.33,486.02 292.8,481.6 C294.27,477.18 295.73,471.62 297.2,467.5 C298.67,463.38 300.5,460.65 301.6,456.9 C302.7,453.15 303.13,448.98 303.8,445 C304.47,441.02 305.1,437 305.6,433 C306.1,429 306.38,426.83 306.8,421 C307.22,415.17 307.53,406.07 308.1,398 C308.67,389.93 309.5,381.05 310.2,372.6 C310.9,364.15 311.6,355.05 312.3,347.3 C313,339.55 313.58,331.22 314.4,326.1 C315.22,320.98 316.2,316.6 317.2,316.6 C318.2,316.6 319.52,320.98 320.4,326.1 C321.28,331.22 321.8,340.25 322.5,347.3 C323.2,354.35 323.9,362.07 324.6,368.4 C325.3,374.73 326,380.37 326.7,385.3 C327.4,390.23 327.92,395.02 328.8,398 C329.68,400.98 330.82,401.8 332,403.2 C333.18,404.6 334.82,405.43 335.9,406.4 C336.98,407.37 337.57,407.82 338.5,409 C339.43,410.18 340.32,410.98 341.5,413.5 C342.68,416.02 343.97,419.98 345.6,424.1 C347.23,428.22 349.42,433.27 351.3,438.2 C353.18,443.13 355.03,449.02 356.9,453.7 C358.77,458.38 361.08,463.72 362.5,466.3 C363.92,468.88 364.45,469.2 365.4,469.2 C366.35,469.2 367.03,468.18 368.2,466.3 C369.37,464.42 371.12,459.82 372.4,457.9 C373.68,455.98 374.73,455.03 375.9,454.8 C377.07,454.57 378.33,455.28 379.4,456.5 C380.47,457.72 381.35,459.52 382.3,462.1 C383.25,464.68 384.05,468.48 385.1,472 C386.15,475.52 387.43,480.38 388.6,483.2 C389.77,486.02 391.02,487.43 392.1,488.9 C393.18,490.37 393.78,491.25 395.1,492 C396.42,492.75 398.25,493.05 400,493.4 C401.75,493.75 403.22,493.9 405.6,494.1 C407.98,494.3 409.87,494.42 414.3,494.6 C418.73,494.78 427.42,495.2 432.2,495.2 C436.98,495.2 440,494.93 443,494.6 C446,494.27 447.82,493.58 450.2,493.2 C452.58,492.82 455.37,492.37 457.3,492.3 C459.23,492.23 460,492.2 461.8,492.8 C463.6,493.4 465.57,494.92 468.1,495.9 C470.63,496.88 475.52,498.23 477,498.7" fill="none" stroke="#1010f0" stroke-width="2.0" stroke-linejoin="round" stroke-linecap="round"/>
</svg>
</body></html>
